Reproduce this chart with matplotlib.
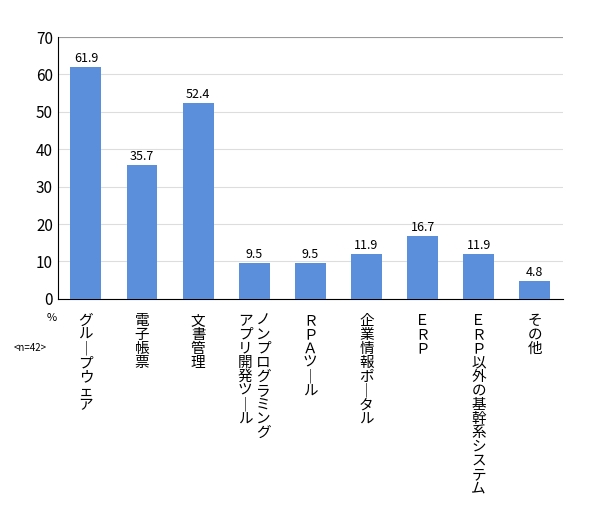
import matplotlib
matplotlib.use("Agg")
import matplotlib.pyplot as plt

plt.rcParams['font.family'] = ['Noto Sans CJK JP', 'DejaVu Sans']

categories = [["グループウェア"], ["電子帳票"], ["文書管理"],
              ["ノンプログラミング", "アプリ開発ツール"], ["ＲＰＡツール"],
              ["企業情報ポータル"], ["ＥＲＰ"], ["ＥＲＰ以外の基幹系システム"], ["その他"]]
values = [61.9, 35.7, 52.4, 9.5, 9.5, 11.9, 16.7, 11.9, 4.8]
yticks = [0, 10, 20, 30, 40, 50, 60, 70]

fig = plt.figure(figsize=(5.9, 5.29), dpi=100)
ax = fig.add_axes([0.098, 0.435, 0.856, 0.495])
x = range(len(values))
ax.bar(x, values, width=0.55, color='#5b8fdb', zorder=3)
for xi, v in zip(x, values):
    ax.text(xi, v + 0.6, f"{v}", ha='center', va='bottom', fontsize=9)
ax.set_ylim(0, 70)
ax.set_xlim(-0.5, len(values) - 0.5)
ax.set_yticks(yticks)
ax.tick_params(axis='y', labelsize=11, length=0)
ax.tick_params(axis='x', length=0, labelbottom=False)
ax.yaxis.grid(True, color='#dddddd', lw=0.8, zorder=0)
for s in ['top', 'right']:
    ax.spines[s].set_visible(False)
ax.axhline(70, color='#999999', lw=0.8)

def vert(s):
    return "\n".join("｜" if c == "ー" else c for c in s)

for xi, lines in zip(x, categories):
    n = len(lines)
    for j, ln in enumerate(lines):
        off = (n - 1) / 2 * 0.32 - j * 0.32
        ax.text(xi + off, -4, vert(ln), ha='center', va='top', fontsize=10.5,
                linespacing=1.0, transform=ax.transData, clip_on=False)

fig.text(52 / 590, 1 - 318 / 529, "%", ha='center', va='center', fontsize=8)
fig.text(30 / 590, 1 - 348 / 529, "<n=42>", ha='center', va='center', fontsize=7)
fig.savefig("out.png", dpi=100)
